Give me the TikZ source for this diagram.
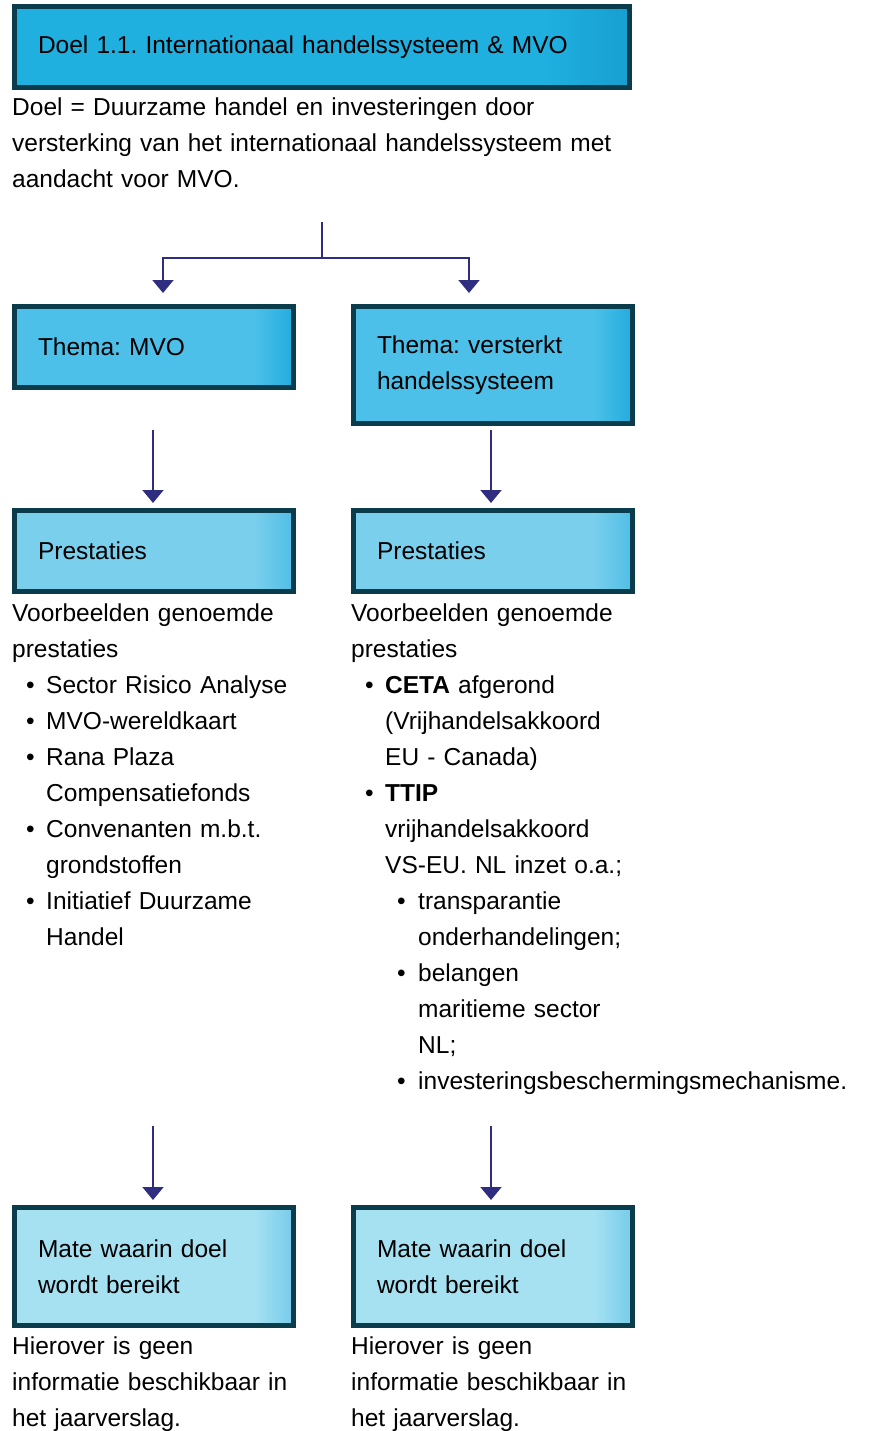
\documentclass[tikz,border=0pt]{standalone}
\usepackage{fontspec}
\setmainfont{Liberation Sans}
\usepackage{tikz}
\usetikzlibrary{arrows.meta, positioning, calc}

\definecolor{edge}{HTML}{0B3C4C}
\definecolor{navy}{HTML}{2E2D7F}
\definecolor{goalA}{HTML}{1FB0E0}
\definecolor{goalB}{HTML}{179FD0}
\definecolor{themaA}{HTML}{4CC0E8}
\definecolor{themaB}{HTML}{22ACDE}
\definecolor{prestA}{HTML}{7ACFEC}
\definecolor{prestB}{HTML}{4FBEE6}
\definecolor{mateA}{HTML}{A6E1F2}
\definecolor{mateB}{HTML}{76CBEA}

% vlak tot ca. 88% van de breedte, dan naar donkerder aan de rechterkant
\pgfdeclarehorizontalshading{goalshade}{100bp}{color(0bp)=(goalA); color(68bp)=(goalA); color(75bp)=(goalB); color(100bp)=(goalB)}
\pgfdeclarehorizontalshading{themashade}{100bp}{color(0bp)=(themaA); color(68bp)=(themaA); color(75bp)=(themaB); color(100bp)=(themaB)}
\pgfdeclarehorizontalshading{prestshade}{100bp}{color(0bp)=(prestA); color(68bp)=(prestA); color(75bp)=(prestB); color(100bp)=(prestB)}
\pgfdeclarehorizontalshading{mateshade}{100bp}{color(0bp)=(mateA); color(68bp)=(mateA); color(75bp)=(mateB); color(100bp)=(mateB)}

\newcommand{\itm}{\par\noindent\hangindent=34pt\hangafter=1\makebox[34pt][l]{\hspace{14pt}\textbullet}}
\newcommand{\subitm}{\par\noindent\hangindent=67pt\hangafter=1\makebox[67pt][l]{\hspace{46pt}\textbullet}}

\tikzset{
	box/.style={draw=edge, line width=5pt, shade, shading=#1, anchor=north west,
		inner xsep=23.5pt, inner ysep=4pt, align=left, text width=232pt,
		minimum height=81pt},
	txt/.style={anchor=base west, inner sep=0pt, align=left},
	arr/.style={draw=navy, line width=1.8pt, -{Triangle[width=21pt,length=13pt]}}
}

\begin{document}
\begin{tikzpicture}[x=1pt, y=-1pt, font=\fontsize{24.5}{36}\selectfont\frenchspacing]
	\useasboundingbox[fill=white] (0,0) rectangle (873,1431);

	% doel
	\node[box=goalshade, text width=568pt] (goal) at (12,4) {Doel 1.1. Internationaal handelssysteem \& MVO};
	\node[txt, text width=640pt] (desc) at (12,116) {Doel = Duurzame handel en investeringen door\\versterking van het internationaal handelssysteem met\\aandacht voor MVO.};

	% themas
	\node[box=themashade] (thema1) at (12,304) {Thema: MVO};
	\node[box=themashade, minimum height=117pt] (thema2) at (351,304) {Thema: versterkt\\handelssysteem};

	% prestaties
	\node[box=prestshade] (prest1) at (12,508) {Prestaties};
	\node[box=prestshade] (prest2) at (351,508) {Prestaties};

	\node[txt, text width=300pt] (lijst1) at (12,621) {Voorbeelden genoemde\\prestaties
		\itm Sector Risico Analyse
		\itm MVO-wereldkaart
		\itm Rana Plaza\newline Compensatiefonds
		\itm Convenanten m.b.t.\newline grondstoffen
		\itm Initiatief Duurzame\newline Handel\par};
	\node[txt, text width=520pt] (lijst2) at (351,621) {Voorbeelden genoemde\\prestaties
		\itm \textbf{CETA} afgerond\newline (Vrijhandelsakkoord\newline EU - Canada)
		\itm \textbf{TTIP}\newline vrijhandelsakkoord\newline VS-EU. NL inzet o.a.;
		\subitm transparantie\newline onderhandelingen;
		\subitm belangen\newline maritieme sector\newline NL;
		\subitm investeringsbeschermingsmechanisme.\par};

	% mate waarin
	\node[box=mateshade, minimum height=118pt] (mate1) at (12,1205) {Mate waarin doel\\wordt bereikt};
	\node[box=mateshade, minimum height=118pt] (mate2) at (351,1205) {Mate waarin doel\\wordt bereikt};
	\node[txt, text width=300pt] (info1) at (12,1354) {Hierover is geen\\informatie beschikbaar in\\het jaarverslag.};
	\node[txt, text width=300pt] (info2) at (351,1354) {Hierover is geen\\informatie beschikbaar in\\het jaarverslag.};

	% pijlen
	\coordinate (fork) at (322,222);
	\coordinate (split) at (322,258);
	\coordinate (t1) at (163,293);
	\coordinate (t2) at (469,293);
	\draw[navy, line width=1.8pt] (fork) -- (split);
	\draw[arr] (split) -| (t1);
	\draw[arr] (split) -| (t2);

	\coordinate (a1) at (153,430);
	\coordinate (a2) at (491,430);
	\coordinate (a3) at (153,1126);
	\coordinate (a4) at (491,1126);
	\foreach \c/\t in {a1/prest1, a2/prest2, a3/mate1, a4/mate2}
		\draw[arr, shorten >=5pt] (\c) -- (\t.north -| \c);
\end{tikzpicture}
\end{document}
